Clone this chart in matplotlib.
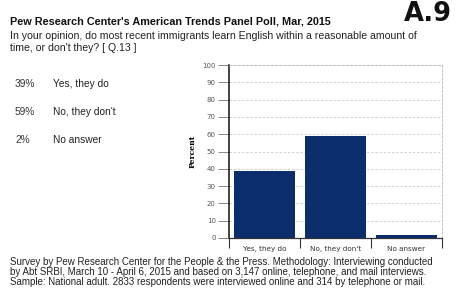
import matplotlib.pyplot as plt

categories = ['Yes, they do', 'No, they don\'t', 'No answer']
values = [39, 59, 2]
pct_labels = ['39%', '59%', '2%']
yticks = [0, 10, 20, 30, 40, 50, 60, 70, 80, 90, 100]

plt.rcParams['font.family'] = ['Liberation Sans', 'DejaVu Sans']

fig = plt.figure(figsize=(4.62, 2.91), dpi=100)
ax = fig.add_axes([229 / 462, 1 - 238 / 291, 213 / 462, 173 / 291])

x = range(len(categories))
ax.bar(x, values, width=0.86, color='#0b2d6b', zorder=3)

ax.set_xlim(-0.5, 2.5)
ax.set_ylim(0, 100)
ax.set_yticks(yticks)
ax.set_yticklabels([str(t) for t in yticks], fontsize=5, color='#555555',
                   family='DejaVu Sans')
ax.tick_params(axis='y', length=8, width=0.7, color='#888888', pad=1.5)

# category labels centred, tick marks between categories
ax.set_xticks([-0.5, 0.5, 1.5, 2.5])
ax.set_xticklabels([])
ax.tick_params(axis='x', which='major', length=7, width=0.8, color='#333333')
ax.set_xticks([0, 1, 2], minor=True)
ax.set_xticklabels(categories, minor=True, fontsize=5.2, color='#333333',
                   family='DejaVu Sans')
ax.tick_params(axis='x', which='minor', length=0, pad=6)

ax.yaxis.grid(True, linestyle=(0, (3, 2)), color='#cccccc', linewidth=0.6, zorder=0)
for s in ['top', 'right']:
    ax.spines[s].set_linestyle((0, (3, 2)))
    ax.spines[s].set_color('#bbbbbb')
    ax.spines[s].set_linewidth(0.6)
ax.spines['left'].set_linewidth(1.2)
ax.spines['left'].set_color('#222222')
ax.spines['bottom'].set_linewidth(0.9)
ax.spines['bottom'].set_color('#333333')

ax.set_ylabel('Percent', fontsize=5.5, fontweight='bold', family='DejaVu Serif',
              labelpad=4)

fig.text(10 / 462, 1 - 21 / 291, "Pew Research Center's American Trends Panel Poll, Mar, 2015",
         fontsize=7.8, fontweight='bold', va='center', color='#111111')
fig.text(404 / 462, 1 - 14 / 291, 'A.9', fontsize=18.5, fontweight='bold',
         family='DejaVu Sans', va='center', color='#111111')
fig.text(10 / 462, 1 - 42 / 291,
         "In your opinion, do most recent immigrants learn English within a reasonable amount of\n"
         "time, or don't they? [ Q.13 ]",
         fontsize=7.55, va='center', color='#222222', linespacing=1.15)

for i, (p, c) in enumerate(zip(pct_labels, categories)):
    yy = 1 - (84 + 28 * i) / 291
    fig.text(15 / 462, yy, p, fontsize=7.3, va='center', color='#333333')
    fig.text(53 / 462, yy, c, fontsize=7.3, va='center', color='#222222')

fig.text(10 / 462, 1 - 272 / 291,
         "Survey by Pew Research Center for the People & the Press. Methodology: Interviewing conducted\n"
         "by Abt SRBI, March 10 - April 6, 2015 and based on 3,147 online, telephone, and mail interviews.\n"
         "Sample: National adult. 2833 respondents were interviewed online and 314 by telephone or mail.",
         fontsize=7.0, va='center', color='#222222', linespacing=1.05)

fig.savefig('out.png', dpi=100)
